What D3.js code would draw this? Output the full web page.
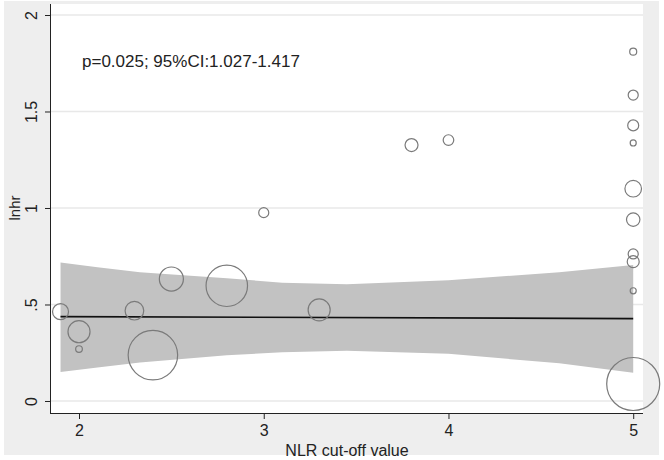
<!DOCTYPE html>
<html>
<head>
<meta charset="utf-8">
<script src="https://cdn.jsdelivr.net/npm/d3@7"></script>
<style>
  body { margin: 0; background: #fff; }
  svg { display: block; font-family: Arial, "Liberation Sans", sans-serif; }
  .tick text { fill: #222; }
</style>
</head>
<body>
<div class="chart"></div>
<script>
// studies: NLR cut-off, log hazard ratio, weight (bubble area)
const cutoff = [1.9, 2.0, 2.0, 2.3, 2.4, 2.5, 2.8, 3.0, 3.3, 3.8, 4.0, 5, 5, 5, 5, 5, 5, 5, 5, 5, 5];
const lnhr = [0.463, 0.359, 0.269, 0.468, 0.238, 0.632, 0.597, 0.976, 0.472, 1.326, 1.352,
  1.81, 1.585, 1.428, 1.337, 1.10, 0.94, 0.762, 0.722, 0.571, 0.088];
const weight = [9.1, 17.3, 1.6, 12.4, 87.2, 20.6, 61.2, 3.6, 17.3, 6.0, 4.0,
  1.75, 3.6, 4.3, 1.3, 9.8, 6.4, 3.6, 5.1, 1.3, 100];

// fitted line and its 95% CI band
const fitX = [1.9, 5];
const fitY = [0.437, 0.427];
const bandX = [1.9, 2.1, 2.33, 2.8, 3.1, 3.45, 4.0, 4.6, 5.0];
const bandUpper = [0.717, 0.693, 0.667, 0.636, 0.613, 0.605, 0.625, 0.667, 0.705];
const bandLower = [0.150, 0.173, 0.200, 0.237, 0.252, 0.260, 0.245, 0.195, 0.147];

const xTicks = [2, 3, 4, 5];
const yTicks = [0, 0.5, 1, 1.5, 2];
const yTickLabels = ["0", ".5", "1", "1.5", "2"];

const W = 664, H = 460;
const plot = { left: 50, right: 643, top: 4, bottom: 413 };

const svg = d3.select(".chart")
  .append("svg")
  .attr("width", W)
  .attr("height", H);

// outer grey frame and white plot region
svg.append("rect")
  .attr("x", 4).attr("y", 1)
  .attr("width", 655).attr("height", 454)
  .attr("fill", "#eeeeee");

svg.append("rect")
  .attr("x", plot.left).attr("y", plot.top)
  .attr("width", plot.right - plot.left).attr("height", plot.bottom - plot.top)
  .attr("fill", "#fff");

const x = d3.scaleLinear()
  .domain([1.843, 5.053])
  .range([plot.left, plot.right]);

const y = d3.scaleLinear()
  .domain([-0.0622, 2.057])
  .range([plot.bottom, plot.top]);

const r = d3.scaleSqrt()
  .domain([0, 100])
  .range([0, 26.5]);

// gridlines
svg.append("g")
  .selectAll("line")
  .data(yTicks)
  .join("line")
  .attr("x1", plot.left).attr("x2", plot.right)
  .attr("y1", d => y(d)).attr("y2", d => y(d))
  .attr("stroke", "#e8e8e8")
  .attr("stroke-width", 1.5);

// CI band
const band = bandX.map((v, i) => ({ x: v, lo: bandLower[i], hi: bandUpper[i] }));
svg.append("path")
  .datum(band)
  .attr("fill", "#c2c2c2")
  .attr("d", d3.area().x(d => x(d.x)).y0(d => y(d.lo)).y1(d => y(d.hi)));

// fitted line
svg.append("path")
  .datum(fitX.map((v, i) => [v, fitY[i]]))
  .attr("fill", "none")
  .attr("stroke", "#111")
  .attr("stroke-width", 1.6)
  .attr("d", d3.line().x(d => x(d[0])).y(d => y(d[1])));

// study bubbles
const studies = cutoff.map((c, i) => ({ c, v: lnhr[i], w: weight[i] }));
svg.append("g")
  .selectAll("circle")
  .data(studies)
  .join("circle")
  .attr("cx", d => x(d.c))
  .attr("cy", d => y(d.v))
  .attr("r", d => r(d.w))
  .attr("fill", "none")
  .attr("stroke", "#7a7a7a")
  .attr("stroke-width", 1.2);

// axes
const yAxis = svg.append("g")
  .attr("transform", `translate(${plot.left},0)`)
  .call(d3.axisLeft(y).tickValues(yTicks).tickFormat((d, i) => yTickLabels[i]).tickSize(5).tickSizeOuter(0));

yAxis.select(".domain").attr("d", `M0.5,${plot.top}V${plot.bottom}`).attr("stroke", "#222");
yAxis.selectAll(".tick line").attr("stroke", "#222");
yAxis.selectAll(".tick text")
  .attr("font-size", 16)
  .attr("text-anchor", "middle")
  .attr("x", 0).attr("dy", 0)
  .attr("transform", "translate(-13,0) rotate(-90)");

const xAxis = svg.append("g")
  .attr("transform", `translate(0,${plot.bottom})`)
  .call(d3.axisBottom(x).tickValues(xTicks).tickFormat(d3.format("d")).tickSize(6).tickSizeOuter(0));

xAxis.select(".domain").attr("d", `M${plot.left},0.5H${plot.right}`).attr("stroke", "#222");
xAxis.selectAll(".tick line").attr("stroke", "#222");
xAxis.selectAll(".tick text")
  .attr("font-size", 16)
  .attr("y", 12);

// axis titles
svg.append("text")
  .text("lnhr")
  .attr("transform", `translate(20,${y(1)}) rotate(-90)`)
  .attr("text-anchor", "middle")
  .attr("font-size", 15)
  .attr("fill", "#222");

svg.append("text")
  .text("NLR cut-off value")
  .attr("x", 347)
  .attr("y", 456)
  .attr("text-anchor", "middle")
  .attr("font-size", 16)
  .attr("fill", "#222");

// annotation
svg.append("text")
  .text("p=0.025; 95%CI:1.027-1.417")
  .attr("x", 82)
  .attr("y", 67)
  .attr("font-size", 17)
  .attr("fill", "#222");
</script>
</body>
</html>
